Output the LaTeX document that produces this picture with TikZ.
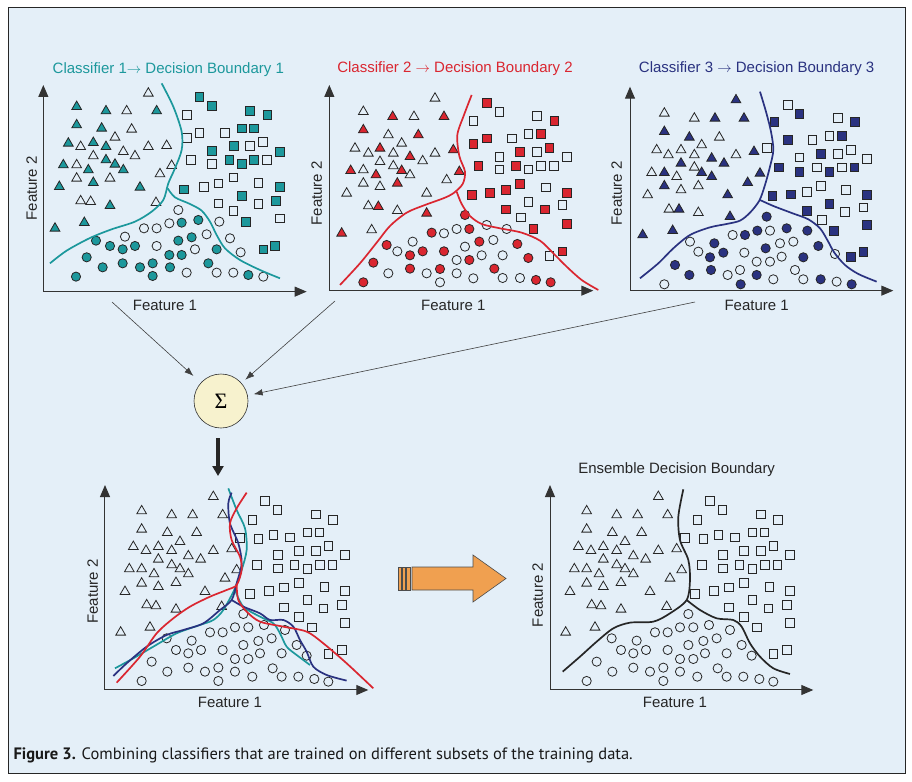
\documentclass[tikz,border=0pt]{standalone}
\usepackage{fontspec}
\setmainfont{Liberation Sans}
\newfontfamily\capfont{PT Sans}
\newfontfamily\sigmafont{Liberation Serif}
\usepackage{tikz}
\usetikzlibrary{arrows.meta,positioning,calc,shapes.geometric}

\definecolor{bgblue}{RGB}{228,239,248}
\definecolor{cteal}{RGB}{28,152,156}
\definecolor{cred}{RGB}{218,38,48}
\definecolor{cnavy}{RGB}{42,50,128}
\definecolor{sumfill}{RGB}{247,242,206}
\definecolor{corange}{RGB}{240,160,80}

\tikzstyle{tri}=[regular polygon, regular polygon sides=3, draw=black!85, line width=0.8pt, minimum size=11.2pt, inner sep=0pt]
\tikzstyle{sq}=[rectangle, draw=black!85, line width=0.8pt, minimum size=8.8pt, inner sep=0pt]
\tikzstyle{dot}=[circle, draw=black!85, line width=0.8pt, minimum size=9.2pt, inner sep=0pt]
\tikzstyle{axis}=[draw=black!80, line width=1pt, -{Triangle[length=12pt,width=10pt]}]
\tikzstyle{bound}=[line width=1.7pt, smooth]
\tikzstyle{lbl}=[font=\fontsize{15}{17}\selectfont, text=black!85]
\tikzstyle{conn}=[draw=black!75, line width=0.6pt, -{Latex[length=9pt,width=6.5pt]}]

% shared data of the two lower plots
\def\bottri{400/80, 185/123, 275/135, 338/135, 428/135, 185/178, 262/188, 350/188, 160/230, 198/242, 235/230, 275/242, 300/215, 325/258, 362/268, 400/242, 455/237, 235/268, 275/285, 300/297, 325/312, 222/312, 185/297, 148/297, 185/340, 235/350, 288/338, 435/325, 470/300, 135/365, 375/365, 200/405, 228/408, 288/418, 425/410, 210/472, 122/487}
\def\botsq{555/93, 592/120, 708/133, 758/150, 517/150, 480/203, 535/207, 580/195, 630/202, 682/187, 718/187, 593/255, 657/242, 708/242, 745/228, 795/255, 530/285, 593/295, 643/285, 682/297, 720/285, 757/285, 657/338, 510/372, 567/362, 612/352, 733/350, 795/362, 682/390, 612/412, 730/415, 785/405, 657/440, 695/472, 795/458, 745/552, 785/540}
\def\botdot{490/432, 390/487, 428/487, 465/472, 505/472, 552/465, 615/480, 260/505, 335/512, 535/513, 575/505, 650/525, 288/540, 325/550, 363/540, 428/540, 490/525, 540/550, 605/550, 680/557, 215/575, 465/567, 505/567, 578/595, 325/593, 262/605, 375/605, 415/593, 465/605, 517/620, 605/620, 655/620, 703/627, 745/635, 185/633, 415/633}

\begin{document}
\begin{tikzpicture}[x=1pt, y=-1pt]
	\useasboundingbox (0,0) rectangle (912,781);
	\draw[fill=bgblue, draw=black!85, line width=1pt] (8,8) rectangle (905,773);

	% classifier 1
	\begin{scope}[shift={(0,0)}, x=0.3333pt, y=-0.3333pt]
		\node[lbl, text=cteal] (title1) at (505,210) {Classifier 1$\rightarrow$ Decision Boundary 1};
		\foreach \x/\y in {445/280, 380/333, 395/388, 242/440, 345/412, 370/455, 405/468, 445/440, 500/437, 280/468, 230/495, 230/535, 330/535, 480/522, 515/497, 242/603, 272/605, 468/608}
			\node[tri] at (\x,\y) {};
		\foreach \x/\y in {230/320, 318/333, 470/333, 230/375, 305/385, 205/430, 280/428, 318/440, 318/480, 345/493, 370/510, 190/495, 265/510, 280/548, 420/562, 178/560, 330/617, 165/685, 253/668}
			\node[tri, fill=cteal] at (\x,\y) {};
		\foreach \x/\y in {560/345, 560/413, 598/398, 675/398, 750/438, 788/425, 800/480, 572/480, 635/492, 700/532, 612/560, 655/550, 775/548, 655/610, 700/632, 775/612, 840/655}
			\node[sq] at (\x,\y) {};
		\foreach \x/\y in {598/290, 635/317, 750/333, 802/345, 725/385, 762/385, 702/438, 840/455, 635/453, 688/480, 725/492, 762/480, 552/568, 840/560, 725/588, 827/602, 738/665, 790/748, 825/738}
			\node[sq, fill=cteal] at (\x,\y) {};
		\foreach \x/\y in {535/630, 432/685, 470/685, 508/670, 658/665, 375/710, 470/738, 620/703, 690/715, 585/748, 722/757, 560/818, 650/818, 700/818, 790/830}
			\node[dot] at (\x,\y) {};
		\foreach \x/\y in {545/668, 595/660, 288/722, 330/738, 368/748, 405/738, 535/722, 575/712, 650/748, 260/772, 508/765, 545/765, 308/802, 368/790, 420/802, 458/790, 510/802, 625/790, 228/830, 458/828, 745/825}
			\node[dot, fill=cteal] at (\x,\y) {};
		\draw[bound, cteal] plot coordinates {(485,250) (520,320) (545,395) (545,450) (525,505) (505,550) (490,600) (455,635) (405,665) (335,688) (270,714) (200,752) (150,790)};
		\draw[bound, cteal] plot coordinates {(503,565) (525,592) (570,612) (605,632) (630,665) (650,705) (675,745) (720,780) (780,810) (840,835)};
		\draw[axis] (130,875) -- (130,255);
		\draw[axis] (130,875) -- (920,875);
		\node[lbl] (f1a) at (495,915) {Feature 1};
		\node[lbl, rotate=90] (f2a) at (95,565) {Feature 2};
	\end{scope}

	% classifier 2
	\begin{scope}[shift={(300,50)}, x=0.3333pt, y=-0.3333pt]
		\node[lbl, text=cred] (title2) at (465,55) {Classifier 2 $\rightarrow$ Decision Boundary 2};
		\foreach \x/\y in {405/145, 190/185, 342/200, 265/255, 165/295, 205/310, 280/310, 305/280, 368/333, 405/310, 240/335, 280/348, 330/375, 190/360, 190/400, 240/410, 440/390, 140/430, 380/430, 205/468, 292/482, 215/540}
			\node[tri] at (\x,\y) {};
		\foreach \x/\y in {278/200, 432/200, 190/240, 355/255, 240/295, 330/320, 460/300, 305/362, 228/375, 152/362, 292/400, 478/365, 235/470, 380/490, 125/550}
			\node[tri, fill=cred] at (\x,\y) {};
		\foreach \x/\y in {598/185, 710/198, 520/212, 635/265, 685/252, 710/305, 598/320, 800/320, 598/358, 685/358, 722/348, 762/348, 738/412, 685/455, 787/465, 662/502, 748/618}
			\node[sq] at (\x,\y) {};
		\foreach \x/\y in {560/158, 763/212, 560/265, 520/282, 722/252, 660/305, 748/293, 535/348, 648/348, 660/402, 515/435, 570/428, 618/420, 800/428, 618/478, 735/478, 700/537, 800/522, 787/604}
			\node[sq, fill=cred] at (\x,\y) {};
		\foreach \x/\y in {432/550, 470/537, 560/525, 620/537, 338/575, 580/570, 292/604, 495/590, 545/616, 608/616, 470/630, 265/670, 380/670, 470/670, 520/685, 608/684, 660/684, 420/697}
			\node[dot] at (\x,\y) {};
		\foreach \x/\y in {495/495, 395/548, 508/537, 538/575, 652/582, 260/585, 330/616, 368/604, 432/604, 685/624, 220/638, 508/630, 330/656, 583/656, 420/657, 708/690, 752/697, 190/697}
			\node[dot, fill=cred] at (\x,\y) {};
		\draw[bound, cred] plot coordinates {(515,135) (492,195) (472,255) (478,318) (495,365) (488,402) (460,430) (430,445) (375,465) (320,488) (270,528) (230,578) (180,640) (120,705)};
		\draw[bound, cred] plot coordinates {(470,425) (485,462) (510,498) (545,522) (600,535) (665,548) (720,572) (760,610) (800,650) (845,690) (895,720)};
		\draw[axis] (88,722) -- (88,105);
		\draw[axis] (88,722) -- (880,722);
		\node[lbl] (f1b) at (460,765) {Feature 1};
		\node[lbl, rotate=90] (f2b) at (50,430) {Feature 2};
	\end{scope}

	% classifier 3
	\begin{scope}[shift={(600,50)}, x=0.3333pt, y=-0.3333pt]
		\node[lbl, text=cnavy] (title3) at (470,55) {Classifier 3 $\rightarrow$ Decision Boundary 3};
		\foreach \x/\y in {193/190, 283/205, 358/262, 170/300, 205/315, 243/300, 283/315, 305/285, 408/315, 283/352, 155/368, 230/380, 243/420, 295/408, 143/435, 207/478, 295/488}
			\node[tri] at (\x,\y) {};
		\foreach \x/\y in {408/150, 345/205, 432/205, 193/245, 268/262, 335/325, 372/340, 462/305, 243/340, 305/368, 335/380, 193/368, 193/408, 443/398, 480/370, 383/435, 237/478, 390/500, 218/542, 128/555}
			\node[tri, fill=cnavy] at (\x,\y) {};
		\foreach \x/\y in {563/165, 713/203, 500/293, 637/270, 688/258, 713/312, 752/300, 598/322, 800/327, 650/352, 725/352, 662/408, 621/425, 738/420, 735/485, 790/472, 665/510}
			\node[sq] at (\x,\y) {};
		\foreach \x/\y in {598/192, 765/215, 523/215, 563/270, 725/258, 662/312, 537/352, 598/365, 688/365, 763/352, 517/438, 573/433, 800/435, 688/462, 621/482, 702/543, 800/525, 752/620, 790/606}
			\node[sq, fill=cnavy] at (\x,\y) {};
		\foreach \x/\y in {398/555, 510/542, 270/575, 540/580, 580/575, 295/605, 433/608, 545/620, 705/612, 470/635, 510/635, 585/660, 383/675, 420/660, 520/688, 610/688, 710/695, 193/703}
			\node[dot] at (\x,\y) {};
		\foreach \x/\y in {500/500, 435/555, 472/542, 560/535, 622/542, 343/580, 655/588, 330/622, 370/608, 497/595, 610/622, 225/645, 333/660, 268/675, 470/675, 662/688, 755/703, 422/703}
			\node[dot, fill=cnavy] at (\x,\y) {};
		\draw[bound, cnavy] plot coordinates {(480,125) (498,185) (513,245) (520,300) (510,350) (495,405) (478,452) (450,488) (420,512) (380,522) (330,532) (270,555) (220,595) (175,640) (120,685)};
		\draw[bound, cnavy] plot coordinates {(480,450) (520,468) (578,490) (625,508) (660,535) (682,570) (703,608) (735,645) (775,672) (830,695)};
		\draw[axis] (90,722) -- (90,110);
		\draw[axis] (90,722) -- (880,722);
		\node[lbl] (f1c) at (470,765) {Feature 1};
		\node[lbl, rotate=90] (f2c) at (50,430) {Feature 2};
	\end{scope}

	% combining
	\node[circle, draw=black!80, fill=sumfill, line width=0.6pt, minimum size=54pt, inner sep=0pt, font=\sigmafont\fontsize{22}{22}\selectfont] (sum) at (221,401) {Σ};
	\coordinate (c1) at (112,302);
	\coordinate (c2) at (335,301);
	\coordinate (c3) at (695,302);
	\coordinate (merge) at (218,476);
	\draw[conn, shorten >=10pt] (c1) -- (sum);
	\draw[conn, shorten >=5pt] (c2) -- (sum);
	\draw[conn, shorten >=6pt] (c3) -- (sum);
	\draw[draw=black!85, line width=4pt, shorten <=10pt, -{Triangle[length=10pt,width=11pt]}] (sum.south -| merge) -- (merge);

	% all three boundaries
	\begin{scope}[shift={(80,470)}, x=0.3333pt, y=-0.3333pt]
		\foreach \x/\y in \bottri \node[tri] at (\x,\y) {};
		\foreach \x/\y in \botsq \node[sq] at (\x,\y) {};
		\foreach \x/\y in \botdot \node[dot] at (\x,\y) {};
		\draw[bound, cteal] plot coordinates {(445,55) (470,120) (495,175) (500,240) (485,300) (465,355) (430,420) (400,450) (360,465) (290,490) (220,530) (160,565) (105,595)};
		\draw[bound, cteal] plot coordinates {(465,360) (490,410) (540,440) (580,460) (600,490) (620,530) (650,555) (690,585)};
		\draw[bound, cnavy] plot coordinates {(455,68) (445,100) (450,160) (475,220) (485,280) (470,340) (455,390) (420,420) (370,460) (310,480) (260,495) (200,530) (140,580) (100,618)};
		\draw[bound, cnavy] plot coordinates {(455,390) (490,410) (540,430) (570,450) (610,450) (640,470) (660,510) (680,545) (700,590) (740,615) (800,632)};
		\draw[bound, cred] plot coordinates {(500,68) (470,115) (450,160) (455,210) (480,260) (485,300) (470,345) (440,360) (390,380) (330,410) (280,445) (230,490) (180,560) (110,638)};
		\draw[bound, cred] plot coordinates {(470,345) (475,390) (500,425) (540,455) (610,470) (680,485) (730,520) (800,580) (880,655)};
		\draw[axis] (75,660) -- (75,45);
		\draw[axis] (75,660) -- (865,660);
		\node[lbl] (f1d) at (450,697) {Feature 1};
		\node[lbl, rotate=90] (f2d) at (38,365) {Feature 2};
	\end{scope}

	% big arrow
	\filldraw[fill=corange, draw=black!70, line width=0.6pt] (412,567) -- (473,567) -- (473,555) -- (506,578.5) -- (473,602) -- (473,590) -- (412,590) -- cycle;
	\filldraw[fill=corange, draw=black!70, line width=0.6pt] (398,567) rectangle (401,590);
	\filldraw[fill=corange, draw=black!70, line width=0.6pt] (402.7,567) rectangle (405.7,590);
	\filldraw[fill=corange, draw=black!70, line width=0.6pt] (406.7,567) rectangle (410,590);

	% ensemble
	\begin{scope}[shift={(525,470)}, x=0.3333pt, y=-0.3333pt]
		\node[lbl] (title4) at (455,0) {Ensemble Decision Boundary};
		\foreach \x/\y in \bottri \node[tri] at (\x,\y) {};
		\foreach \x/\y in \botsq \node[sq] at (\x,\y) {};
		\foreach \x/\y in \botdot \node[dot] at (\x,\y) {};
		\draw[bound, black!85] plot coordinates {(475,58) (460,140) (465,210) (490,270) (495,330) (485,390) (435,430) (385,455) (315,458) (265,475) (215,515) (165,560) (113,605)};
		\draw[bound, black!85] plot coordinates {(485,390) (525,420) (575,445) (625,450) (650,470) (675,520) (705,560) (745,595) (795,612)};
		\draw[axis] (75,660) -- (75,45);
		\draw[axis] (75,660) -- (865,660);
		\node[lbl] (f1e) at (450,697) {Feature 1};
		\node[lbl, rotate=90] (f2e) at (38,375) {Feature 2};
	\end{scope}

	\node[anchor=base west, font=\capfont\fontsize{16.5}{18}\selectfont, text=black!90] (caption) at (10,759) {\textbf{Figure 3.} Combining classifiers that are trained on different subsets of the training data.};
\end{tikzpicture}
\end{document}
